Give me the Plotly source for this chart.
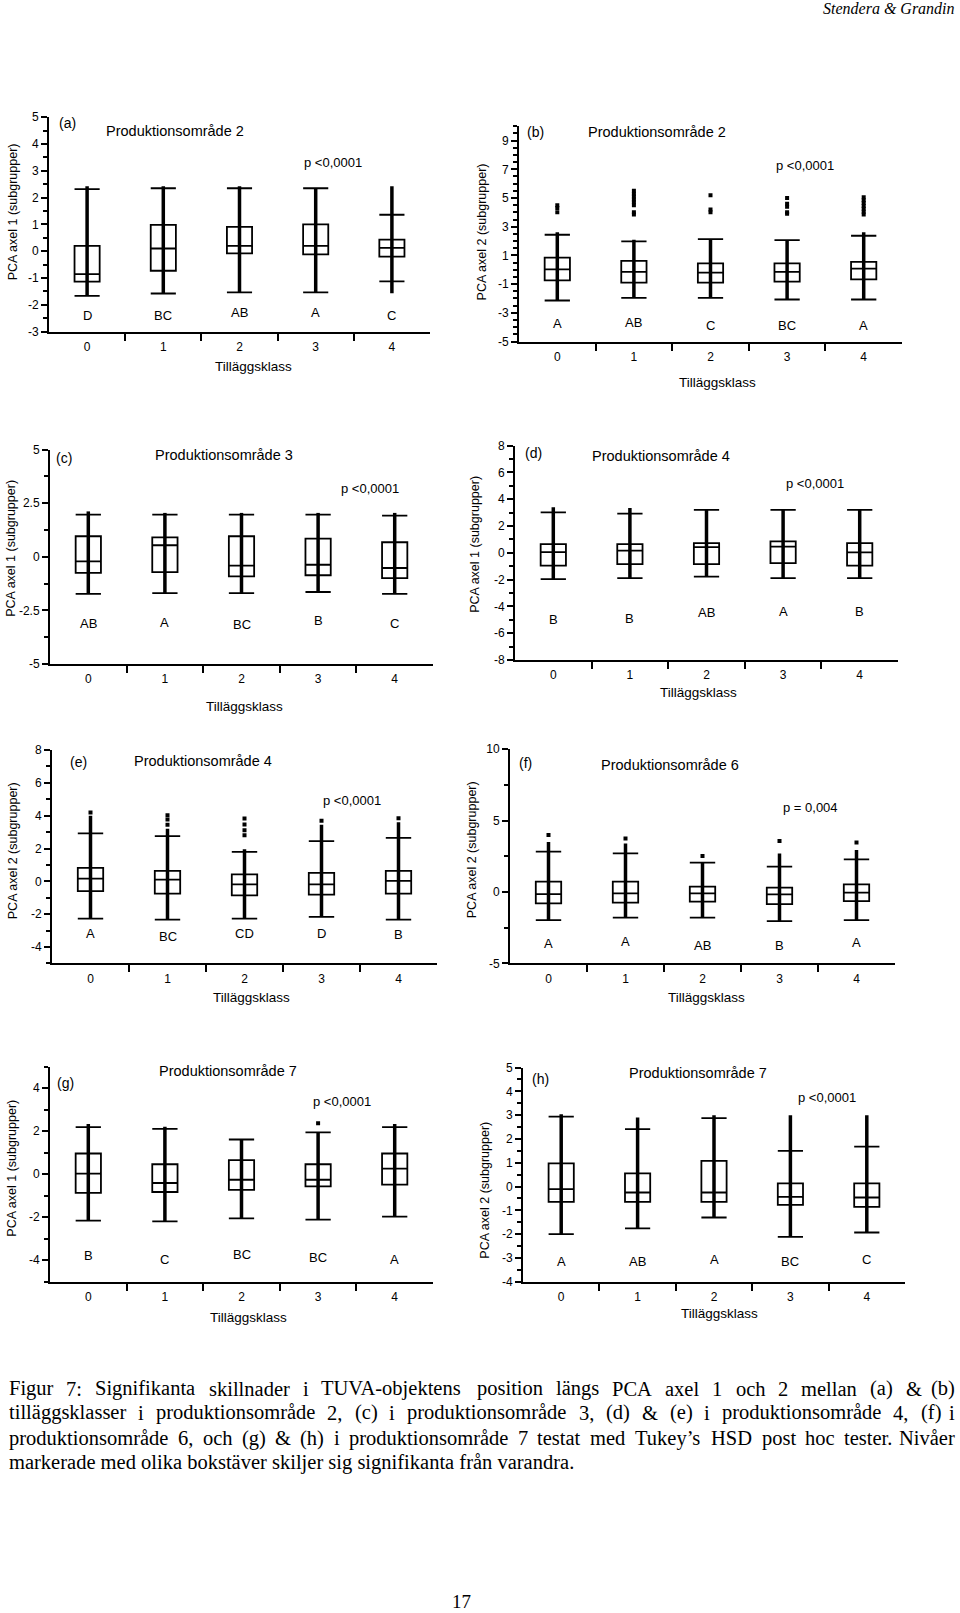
import plotly.graph_objects as go

# ---------------- data ----------------
categories = [0, 1, 2, 3, 4]
tick_labels = ["0", "1", "2", "3", "4"]
x_title = "Tilläggsklass"

# (a) Produktionsområde 2, PCA axel 1
a_q1 = [-1.14, -0.73, -0.08, -0.12, -0.20]
a_med = [-0.86, 0.10, 0.20, 0.20, 0.12]
a_q3 = [0.20, 0.98, 0.91, 1.00, 0.43]
a_lo = [-1.67, -1.58, -1.54, -1.54, -1.13]
a_hi = [2.32, 2.35, 2.35, 2.35, 1.36]
a_pt_lo = [-1.67, -1.58, -1.54, -1.54, -1.57]
a_pt_hi = [2.42, 2.42, 2.42, 2.35, 2.42]
a_out = [[], [], [], [], []]
a_letters = ["D", "BC", "AB", "A", "C"]
a_letter_y = [-2.41, -2.41, -2.29, -2.29, -2.41]
a_yticks = [-3, -2, -1, 0, 1, 2, 3, 4, 5]
a_yticklabels = ["-3", "-2", "-1", "0", "1", "2", "3", "4", "5"]

# (b) Produktionsområde 2, PCA axel 2
b_q1 = [-0.74, -0.90, -0.90, -0.83, -0.67]
b_med = [0.03, -0.15, -0.20, -0.15, 0.08]
b_q3 = [0.85, 0.62, 0.45, 0.45, 0.55]
b_lo = [-2.14, -1.96, -1.96, -2.07, -2.07]
b_hi = [2.44, 1.98, 2.14, 2.07, 2.37]
b_pt_lo = [-2.14, -1.96, -1.96, -2.07, -2.07]
b_pt_hi = [2.61, 2.09, 2.14, 2.07, 2.61]
b_out = [[4.5, 4.3, 4.0], [5.5, 5.3, 5.1, 4.9, 4.7, 4.5, 4.0, 3.85],
         [5.2, 4.2, 4.0], [5.0, 4.6, 4.4, 4.0, 3.9],
         [5.05, 4.85, 4.65, 4.45, 4.25, 4.05, 3.85]]
b_letters = ["A", "AB", "C", "BC", "A"]
b_letter_y = [-3.71, -3.65, -3.90, -3.85, -3.85]
b_yticks = [-5, -3, -1, 1, 3, 5, 7, 9]
b_yticklabels = ["-5", "-3", "-1", "1", "3", "5", "7", "9"]

# (c) Produktionsområde 3, PCA axel 1
c_q1 = [-0.75, -0.71, -0.91, -0.86, -0.99]
c_med = [-0.21, 0.54, -0.41, -0.37, -0.52]
c_q3 = [0.96, 0.91, 0.96, 0.85, 0.68]
c_lo = [-1.73, -1.69, -1.69, -1.64, -1.73]
c_hi = [1.97, 1.97, 1.97, 1.97, 1.92]
c_pt_lo = [-1.73, -1.69, -1.69, -1.64, -1.73]
c_pt_hi = [2.12, 2.05, 2.05, 2.05, 2.05]
c_out = [[], [], [], [], []]
c_letters = ["AB", "A", "BC", "B", "C"]
c_letter_y = [-3.09, -3.06, -3.17, -2.96, -3.09]
c_yticks = [-5, -2.5, 0, 2.5, 5]
c_yticklabels = ["-5", "-2.5", "0", "2.5", "5"]

# (d) Produktionsområde 4, PCA axel 1
d_q1 = [-0.95, -0.85, -0.85, -0.77, -0.95]
d_med = [0.05, 0.17, 0.42, 0.47, 0.03]
d_q3 = [0.65, 0.65, 0.72, 0.85, 0.72]
d_lo = [-1.97, -1.89, -1.77, -1.89, -1.89]
d_hi = [3.02, 2.92, 3.21, 3.21, 3.21]
d_pt_lo = [-1.97, -1.89, -1.77, -1.89, -1.89]
d_pt_hi = [3.41, 3.34, 3.21, 3.21, 3.21]
d_out = [[], [], [], [], []]
d_letters = ["B", "B", "AB", "A", "B"]
d_letter_y = [-5.0, -4.88, -4.46, -4.39, -4.39]
d_yticks = [-8, -6, -4, -2, 0, 2, 4, 6, 8]
d_yticklabels = ["-8", "-6", "-4", "-2", "0", "2", "4", "6", "8"]

# (e) Produktionsområde 4, PCA axel 2
e_q1 = [-0.60, -0.75, -0.85, -0.81, -0.75]
e_med = [0.17, 0.11, -0.18, -0.18, 0.03]
e_q3 = [0.82, 0.64, 0.43, 0.52, 0.64]
e_lo = [-2.27, -2.33, -2.27, -2.17, -2.33]
e_hi = [2.92, 2.75, 1.80, 2.45, 2.65]
e_pt_lo = [-2.27, -2.33, -2.27, -2.17, -2.33]
e_pt_hi = [4.0, 3.2, 1.95, 3.45, 3.6]
e_out = [[4.2], [4.03, 3.77, 3.45], [3.83, 3.46, 3.12, 2.81], [3.7], [3.85]]
e_letters = ["A", "BC", "CD", "D", "B"]
e_letter_y = [-3.19, -3.35, -3.19, -3.19, -3.25]
e_yticks = [-4, -2, 0, 2, 4, 6, 8]
e_yticklabels = ["-4", "-2", "0", "2", "4", "6", "8"]

# (f) Produktionsområde 6, PCA axel 2
f_q1 = [-0.80, -0.75, -0.68, -0.85, -0.64]
f_med = [-0.15, -0.10, -0.10, -0.17, -0.05]
f_q3 = [0.72, 0.72, 0.37, 0.30, 0.53]
f_lo = [-1.97, -1.80, -1.80, -2.04, -1.97]
f_hi = [2.82, 2.70, 2.05, 1.77, 2.28]
f_pt_lo = [-1.97, -1.80, -1.80, -2.04, -1.97]
f_pt_hi = [3.5, 3.4, 2.05, 2.7, 2.93]
f_out = [[3.98], [3.75], [2.51], [3.56], [3.47]]
f_letters = ["A", "A", "AB", "B", "A"]
f_letter_y = [-3.6, -3.5, -3.72, -3.72, -3.55]
f_yticks = [-5, 0, 5, 10]
f_yticklabels = ["-5", "0", "5", "10"]

# (g) Produktionsområde 7, PCA axel 1
g_q1 = [-0.87, -0.83, -0.73, -0.57, -0.49]
g_med = [0.02, -0.41, -0.26, -0.26, 0.26]
g_q3 = [0.96, 0.46, 0.65, 0.46, 0.96]
g_lo = [-2.16, -2.19, -2.05, -2.11, -1.97]
g_hi = [2.18, 2.10, 1.61, 1.94, 2.18]
g_pt_lo = [-2.16, -2.19, -2.05, -2.11, -1.97]
g_pt_hi = [2.33, 2.2, 1.61, 1.94, 2.33]
g_out = [[], [], [], [2.36], []]
g_letters = ["B", "C", "BC", "BC", "A"]
g_letter_y = [-3.8, -3.95, -3.75, -3.85, -3.95]
g_yticks = [-4, -2, 0, 2, 4]
g_yticklabels = ["-4", "-2", "0", "2", "4"]

# (h) Produktionsområde 7, PCA axel 2
h_q1 = [-0.64, -0.64, -0.64, -0.77, -0.85]
h_med = [-0.11, -0.25, -0.25, -0.43, -0.46]
h_q3 = [0.97, 0.55, 1.08, 0.13, 0.13]
h_lo = [-2.0, -1.76, -1.30, -2.11, -1.93]
h_hi = [2.94, 2.41, 2.87, 1.50, 1.68]
h_pt_lo = [-2.0, -1.76, -1.30, -2.11, -1.93]
h_pt_hi = [3.04, 2.9, 3.0, 3.0, 3.0]
h_out = [[], [], [], [], []]
h_letters = ["A", "AB", "A", "BC", "C"]
h_letter_y = [-3.16, -3.16, -3.05, -3.16, -3.05]
h_yticks = [-4, -3, -2, -1, 0, 1, 2, 3, 4, 5]
h_yticklabels = ["-4", "-3", "-2", "-1", "0", "1", "2", "3", "4", "5"]

panel_labels = ["(a)", "(b)", "(c)", "(d)", "(e)", "(f)", "(g)", "(h)"]
panel_titles = ["Produktionsområde 2", "Produktionsområde 2", "Produktionsområde 3",
                "Produktionsområde 4", "Produktionsområde 4", "Produktionsområde 6",
                "Produktionsområde 7", "Produktionsområde 7"]
y_titles = ["PCA axel 1 (subgrupper)", "PCA axel 2 (subgrupper)", "PCA axel 1 (subgrupper)",
            "PCA axel 1 (subgrupper)", "PCA axel 2 (subgrupper)", "PCA axel 2 (subgrupper)",
            "PCA axel 1 (subgrupper)", "PCA axel 2 (subgrupper)"]
p_texts = ["p <0,0001", "p <0,0001", "p <0,0001", "p <0,0001",
           "p <0,0001", "p = 0,004", "p <0,0001", "p <0,0001"]

caption_lines = [
    "Figur 7: Signifikanta skillnader i TUVA-objektens position längs PCA axel 1 och 2 mellan (a) & (b)",
    "tilläggsklasser i produktionsområde 2, (c) i produktionsområde 3, (d) & (e) i produktionsområde 4, (f) i",
    "produktionsområde 6, och (g) & (h) i produktionsområde 7 testat med Tukey’s HSD post hoc tester. Nivåer",
    "markerade med olika bokstäver skiljer sig signifikanta från varandra.",
]
header_text = "Stendera & Grandin"
page_number = "17"

data = {
    "a": (a_q1, a_med, a_q3, a_lo, a_hi, a_pt_lo, a_pt_hi, a_out, a_letters, a_letter_y, a_yticks, a_yticklabels),
    "b": (b_q1, b_med, b_q3, b_lo, b_hi, b_pt_lo, b_pt_hi, b_out, b_letters, b_letter_y, b_yticks, b_yticklabels),
    "c": (c_q1, c_med, c_q3, c_lo, c_hi, c_pt_lo, c_pt_hi, c_out, c_letters, c_letter_y, c_yticks, c_yticklabels),
    "d": (d_q1, d_med, d_q3, d_lo, d_hi, d_pt_lo, d_pt_hi, d_out, d_letters, d_letter_y, d_yticks, d_yticklabels),
    "e": (e_q1, e_med, e_q3, e_lo, e_hi, e_pt_lo, e_pt_hi, e_out, e_letters, e_letter_y, e_yticks, e_yticklabels),
    "f": (f_q1, f_med, f_q3, f_lo, f_hi, f_pt_lo, f_pt_hi, f_out, f_letters, f_letter_y, f_yticks, f_yticklabels),
    "g": (g_q1, g_med, g_q3, g_lo, g_hi, g_pt_lo, g_pt_hi, g_out, g_letters, g_letter_y, g_yticks, g_yticklabels),
    "h": (h_q1, h_med, h_q3, h_lo, h_hi, h_pt_lo, h_pt_hi, h_out, h_letters, h_letter_y, h_yticks, h_yticklabels),
}

# ---------------- layout configuration ----------------
W, H = 960, 1613


def Y(py):
    # pixel row in the target page -> paper fraction (with a small
    # vertical calibration observed for the renderer)
    return 1 - ((py - 7.9) / 0.990) / H


# pixel boxes of plot areas: x0, x1, ytop, ybottom
boxes = {
    "a": (49, 430, 118, 332), "b": (519, 902, 127, 342),
    "c": (50, 433, 450, 664), "d": (515, 898, 446, 660),
    "e": (52, 437, 750, 963), "f": (510, 895, 749, 963),
    "g": (50, 433, 1066, 1281), "h": (523, 905, 1067, 1281),
}
yaxes_cfg = {
    "a": dict(range=[-3, 5], tick0=-3, minor=0.5),
    "b": dict(range=[-5, 10], tick0=-5, minor=0.5),
    "c": dict(range=[-5, 5], tick0=-5, minor=1.25),
    "d": dict(range=[-8, 8], tick0=-8, minor=1),
    "e": dict(range=[-5, 8], tick0=-4, minor=1),
    "f": dict(range=[-5, 10], tick0=-5, minor=2.5),
    "g": dict(range=[-5, 5], tick0=-4, minor=1),
    "h": dict(range=[-4, 5], tick0=-4, minor=0.5),
}
title_pos = {"a": (1.15, 4.5), "b": (1.30, 9.63), "c": (1.77, 4.74), "d": (1.41, 7.22),
             "e": (1.46, 7.31), "f": (1.58, 8.92), "g": (1.83, 4.77), "h": (1.79, 4.76)}
p_pos = {"a": (3.23, 3.32), "b": (3.23, 7.24), "c": (3.68, 3.21), "d": (3.42, 5.2),
         "e": (3.40, 4.95), "f": (3.40, 5.9), "g": (3.31, 3.38), "h": (3.48, 3.74)}
label_pos = {"a": (-0.39, 4.78), "b": (-0.42, 9.59), "c": (-0.45, 4.61), "d": (-0.39, 7.45),
             "e": (-0.29, 7.29), "f": (-0.41, 9.0), "g": (-0.43, 4.23), "h": (-0.41, 4.51)}
ytitle_px = {"a": (13, 213), "b": (482, 233), "c": (11, 549), "d": (475, 545),
             "e": (13, 851), "f": (472, 850), "g": (12, 1168), "h": (485, 1190)}
xtitle_px = {"a": (253, 367), "b": (717, 383), "c": (244, 706), "d": (698, 692),
             "e": (251, 997), "f": (706, 997), "g": (248, 1317), "h": (719, 1313)}

SANS = "Liberation Sans, Arial, sans-serif"
SERIF = "Liberation Serif, Times New Roman, serif"

fig = go.Figure()
annotations = []
layout_axes = {}

for i, key in enumerate(["a", "b", "c", "d", "e", "f", "g", "h"]):
    n = i + 1
    xa = "x" if n == 1 else f"x{n}"
    ya = "y" if n == 1 else f"y{n}"
    q1, med, q3, lo, hi, pt_lo, pt_hi, outs, letters, letter_y, yticks, yticklabels = data[key]

    fig.add_trace(go.Box(
        x=categories, q1=q1, median=med, q3=q3, lowerfence=lo, upperfence=hi,
        width=0.33, whiskerwidth=1, boxpoints=False,
        line=dict(color="black", width=1.8), fillcolor="rgba(0,0,0,0)",
        xaxis=xa, yaxis=ya, showlegend=False, hoverinfo="skip"))

    lx, ly = [], []
    for c, l0, l1 in zip(categories, pt_lo, pt_hi):
        lx += [c, c, None]
        ly += [l0, l1, None]
    fig.add_trace(go.Scatter(x=lx, y=ly, mode="lines", line=dict(color="black", width=3.5),
                             xaxis=xa, yaxis=ya, showlegend=False, hoverinfo="skip"))

    ox, oy = [], []
    for c, vals in zip(categories, outs):
        for v in vals:
            ox.append(c)
            oy.append(v)
    if ox:
        fig.add_trace(go.Scatter(x=ox, y=oy, mode="markers",
                                 marker=dict(symbol="square", size=4, color="black"),
                                 xaxis=xa, yaxis=ya, showlegend=False, hoverinfo="skip"))

    x0, x1, yt, yb = boxes[key]
    ycfg = yaxes_cfg[key]
    layout_axes["xaxis" if n == 1 else f"xaxis{n}"] = dict(
        domain=[x0 / W, x1 / W], anchor=ya, range=[-0.5, 4.5],
        showline=True, linecolor="black", linewidth=2, showgrid=False, zeroline=False,
        tickmode="array", tickvals=categories, ticktext=tick_labels, ticks="outside", ticklen=3,
        tickcolor="rgba(0,0,0,0)", tickfont=dict(family=SANS, size=12, color="black"),
        minor=dict(tickmode="array", tickvals=[0.5, 1.5, 2.5, 3.5], ticks="outside", ticklen=7,
                   tickwidth=2, tickcolor="black"),
        fixedrange=True)
    layout_axes["yaxis" if n == 1 else f"yaxis{n}"] = dict(
        domain=[Y(yb), Y(yt)], anchor=xa, range=ycfg["range"],
        showline=True, linecolor="black", linewidth=2, showgrid=False, zeroline=False,
        tickmode="array", tickvals=yticks, ticktext=yticklabels,
        ticks="outside", ticklen=6, tickwidth=1.5,
        tickcolor="black", tickfont=dict(family=SANS, size=12, color="black"),
        minor=dict(tickmode="linear", tick0=ycfg["tick0"], dtick=ycfg["minor"], ticks="outside",
                   ticklen=4, tickwidth=1.5, tickcolor="black"),
        fixedrange=True)

    # texts in panel
    for c, t, yv in zip(categories, letters, letter_y):
        annotations.append(dict(x=c, y=yv, xref=xa, yref=ya, text=t, showarrow=False,
                                xanchor="center", yanchor="middle",
                                font=dict(family=SANS, size=13, color="black")))
    annotations.append(dict(x=title_pos[key][0], y=title_pos[key][1], xref=xa, yref=ya,
                            text=panel_titles[i], showarrow=False,
                            xanchor="center", yanchor="middle",
                            font=dict(family=SANS, size=14.5, color="black")))
    annotations.append(dict(x=p_pos[key][0], y=p_pos[key][1], xref=xa, yref=ya,
                            text=p_texts[i], showarrow=False,
                            xanchor="center", yanchor="middle",
                            font=dict(family=SANS, size=13, color="black")))
    annotations.append(dict(x=label_pos[key][0], y=label_pos[key][1], xref=xa, yref=ya,
                            text=panel_labels[i], showarrow=False, xanchor="left",
                            yanchor="middle",
                            font=dict(family=SANS, size=14, color="black")))
    tx, ty = ytitle_px[key]
    annotations.append(dict(x=tx / W, y=Y(ty), xref="paper", yref="paper",
                            text=y_titles[i], showarrow=False, textangle=-90,
                            xanchor="center", yanchor="middle",
                            font=dict(family=SANS, size=12.5, color="black")))
    tx, ty = xtitle_px[key]
    annotations.append(dict(x=tx / W, y=Y(ty), xref="paper", yref="paper",
                            text=x_title, showarrow=False,
                            xanchor="center", yanchor="middle",
                            font=dict(family=SANS, size=13.5, color="black")))

# ---------------- caption (justified with Times metrics) ----------------
tw = {" ": 250, "&": 778, "'": 333, "’": 333, "(": 333, ")": 333, ",": 250, "-": 333,
      ".": 250, ":": 278}
for ch in "0123456789":
    tw[ch] = 500
tw.update(dict(A=722, B=667, C=667, D=722, E=611, F=556, G=722, H=722, I=333, J=389,
               K=722, L=611, M=889, N=722, O=722, P=556, Q=722, R=667, S=556, T=611,
               U=722, V=722, W=944, X=722, Y=722, Z=611))
tw.update(dict(a=444, b=500, c=444, d=500, e=444, f=333, g=500, h=500, i=278, j=278,
               k=500, l=278, m=778, n=500, o=500, p=500, q=500, r=333, s=389, t=278,
               u=500, v=500, w=722, x=500, y=500, z=444))
tw.update({"å": 444, "ä": 444, "ö": 500})

CAP_SIZE = 20.5
CAP_LEFT, CAP_RIGHT = 7, 957
cap_y = [1388, 1412, 1437, 1461]


def word_w(wd):
    return sum(tw.get(ch, 500) for ch in wd) / 1000 * CAP_SIZE


for li, line in enumerate(caption_lines):
    yv = Y(cap_y[li])
    words = line.split(" ")
    if li < len(caption_lines) - 1:
        widths = [word_w(wd) for wd in words]
        gap = (CAP_RIGHT - CAP_LEFT - sum(widths)) / (len(words) - 1)
        xpos = CAP_LEFT
        for wi, (wd, wv) in enumerate(zip(words, widths)):
            last = wi == len(words) - 1
            annotations.append(dict(x=(CAP_RIGHT if last else xpos) / W, y=yv,
                                    xref="paper", yref="paper", text=wd, showarrow=False,
                                    xanchor="right" if last else "left", yanchor="middle",
                                    font=dict(family=SERIF, size=CAP_SIZE, color="black")))
            xpos += wv + gap
    else:
        annotations.append(dict(x=CAP_LEFT / W, y=yv, xref="paper", yref="paper",
                                text=line, showarrow=False, xanchor="left", yanchor="middle",
                                font=dict(family=SERIF, size=CAP_SIZE, color="black")))

annotations.append(dict(x=957 / W, y=Y(9), xref="paper", yref="paper", text=header_text,
                        showarrow=False, xanchor="right", yanchor="middle",
                        font=dict(family=SERIF, size=16, color="black", style="italic")))
annotations.append(dict(x=461 / W, y=Y(1600), xref="paper", yref="paper", text=page_number,
                        showarrow=False, xanchor="center", yanchor="middle", borderpad=0,
                        font=dict(family=SERIF, size=19, color="black")))

fig.update_layout(
    width=W, height=H, margin=dict(l=0, r=0, t=0, b=0),
    paper_bgcolor="white", plot_bgcolor="white",
    showlegend=False, annotations=annotations, **layout_axes)

fig.write_html("out.html", config={"displayModeBar": False},
               post_script="document.body.style.margin='0';document.body.style.overflow='hidden';")
